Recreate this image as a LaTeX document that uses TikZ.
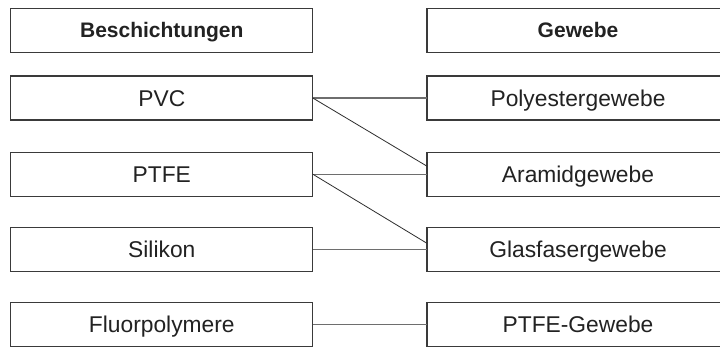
\documentclass[tikz,border=0pt]{standalone}
\usepackage{fontspec}
\setmainfont{Liberation Sans}
\definecolor{boxline}{HTML}{3A3A3A}
\definecolor{txt}{HTML}{222222}
\definecolor{hline}{HTML}{6E6E6E}
\definecolor{dline}{HTML}{2E2E2E}
\begin{document}
\begin{tikzpicture}[x=1pt,y=-1pt,
  cell/.style={draw=boxline, line width=1.1pt, fill=white, minimum width=302pt, minimum height=44pt,
    inner sep=0pt, outer sep=0pt, text=txt, text height=16.2pt, text depth=0pt,
    font=\fontsize{22.8}{26}\selectfont},
  head/.style={cell, text height=15pt, font=\fontsize{21}{24}\selectfont\bfseries},
  hconn/.style={draw=hline, line width=1.1pt},
  dconn/.style={draw=dline, line width=0.8pt}]
\clip (0,0) rectangle (720,346);
\fill[white] (0,0) rectangle (720,346);
\node[head] (lh) at (161.8,30.3) {Beschichtungen};
\node[head] (rh) at (578,30.3) {Gewebe};
\node[cell] (pvc) at (161.8,98) {PVC};
\node[cell] (ptfe) at (161.8,174.2) {PTFE};
\node[cell] (sil) at (161.8,249.8) {Silikon};
\node[cell] (flu) at (161.8,324.7) {Fluorpolymere};
\node[cell] (poly) at (578,98) {Polyestergewebe};
\node[cell] (ara) at (578,174.2) {Aramidgewebe};
\node[cell] (gla) at (578,249.8) {Glasfasergewebe};
\node[cell] (ptg) at (578,324.7) {PTFE-Gewebe};
\draw[hconn] (pvc.east) -- (poly.west);
\draw[dconn] (pvc.east) -- ([yshift=8pt]ara.west);
\draw[hconn] (ptfe.east) -- (ara.west);
\draw[dconn] (ptfe.east) -- ([yshift=6.5pt]gla.west);
\draw[hconn] (sil.east) -- (gla.west);
\draw[hconn] (flu.east) -- (ptg.west);
\end{tikzpicture}
\end{document}
